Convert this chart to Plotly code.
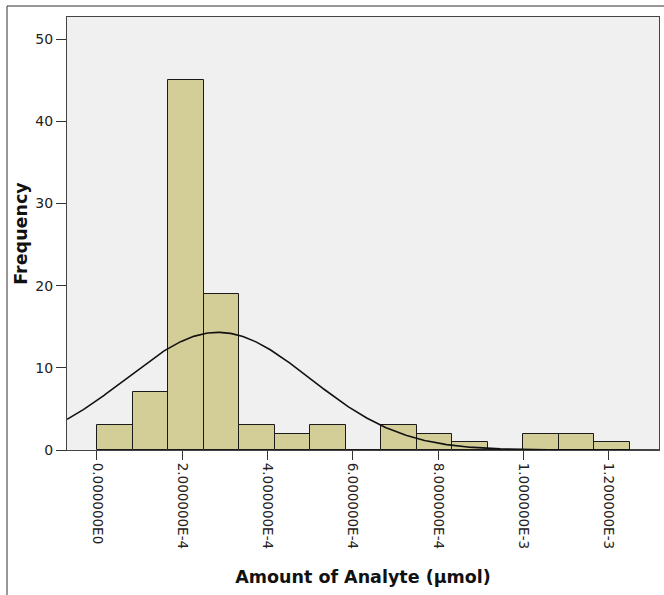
import numpy as np
import plotly.graph_objects as go

# ---- data ----
bin_start = 0.0
bin_width = 1.0e-3 / 12
counts = [3, 7, 45, 19, 3, 2, 3, 0, 3, 2, 1, 0, 2, 2, 1]
n_total = sum(counts)
fit_mean = 2.84e-4
fit_sd = 2.16e-4
x_tick_vals = [0.0, 2.0e-4, 4.0e-4, 6.0e-4, 8.0e-4, 1.0e-3, 1.2e-3]
x_tick_text = ["0.000000E0", "2.000000E-4", "4.000000E-4", "6.000000E-4",
               "8.000000E-4", "1.000000E-3", "1.200000E-3"]
y_tick_vals = [0, 10, 20, 30, 40, 50]
x_range = [-0.703e-4, 1.318e-3]
y_range = [0, 52.68]

centers = [bin_start + (i + 0.5) * bin_width for i in range(len(counts))]

xs = np.linspace(x_range[0], x_range[1], 400)
ys = n_total * bin_width / (fit_sd * np.sqrt(2 * np.pi)) * np.exp(-0.5 * ((xs - fit_mean) / fit_sd) ** 2)

fig = go.Figure()
fig.add_trace(go.Bar(
    x=centers, y=counts, width=bin_width,
    marker=dict(color="#D3CE97", line=dict(color="#1a1a1a", width=1)),
    hoverinfo="skip",
))
fig.add_trace(go.Scatter(
    x=xs, y=ys, mode="lines",
    line=dict(color="#111111", width=1.6),
    hoverinfo="skip",
))

W, H = 664, 595
L, R, T, B = 67, 5, 17, 145
pw = W - L - R
ph = H - T - B

fig.update_layout(
    width=W, height=H,
    margin=dict(l=L, r=R, t=T, b=B, pad=0),
    paper_bgcolor="white",
    plot_bgcolor="#F0F0F0",
    showlegend=False,
    bargap=0,
    font=dict(family="DejaVu Sans", size=14, color="#222222"),
    xaxis=dict(
        range=x_range,
        tickvals=x_tick_vals, ticktext=x_tick_text,
        tickangle=90,
        ticks="outside", ticklen=9, tickcolor="#333333", tickwidth=1,
        showline=True, linecolor="#444444", linewidth=1, mirror=True,
        showgrid=False, zeroline=False,
        tickfont=dict(family="DejaVu Sans", size=13.5, color="#222222"),
        title=dict(text="<b>Amount of Analyte (μmol)</b>",
                   font=dict(family="DejaVu Sans", size=17.5, color="#111111"),
                   standoff=22),
    ),
    yaxis=dict(
        range=y_range,
        tickvals=y_tick_vals,
        ticks="outside", ticklen=10, tickcolor="#333333", tickwidth=1,
        showline=True, linecolor="#444444", linewidth=1, mirror=True,
        showgrid=False, zeroline=False,
        tickfont=dict(family="DejaVu Sans", size=14, color="#222222"),
        title=dict(text="<b>Frequency</b>",
                   font=dict(family="DejaVu Sans", size=17.5, color="#111111"),
                   standoff=3),
    ),
)

# outer frame of the output (left and top border lines)
x_left = (7 - L) / pw
y_top = 1 + (T - 6) / ph
fig.add_shape(type="line", xref="paper", yref="paper",
              x0=x_left, x1=1 + R / pw, y0=y_top, y1=y_top,
              line=dict(color="#333333", width=1))
fig.add_shape(type="line", xref="paper", yref="paper",
              x0=x_left, x1=x_left, y0=y_top, y1=-B / ph,
              line=dict(color="#333333", width=1))

fig.write_html("out.html", config={"displayModeBar": False})

# remove the browser's default page margin so the figure sits at (0, 0)
with open("out.html", "r", encoding="utf-8") as f:
    html = f.read()
html = html.replace("<head>", "<head><style>html,body{margin:0;padding:0;overflow:hidden;}</style>", 1)
with open("out.html", "w", encoding="utf-8") as f:
    f.write(html)
